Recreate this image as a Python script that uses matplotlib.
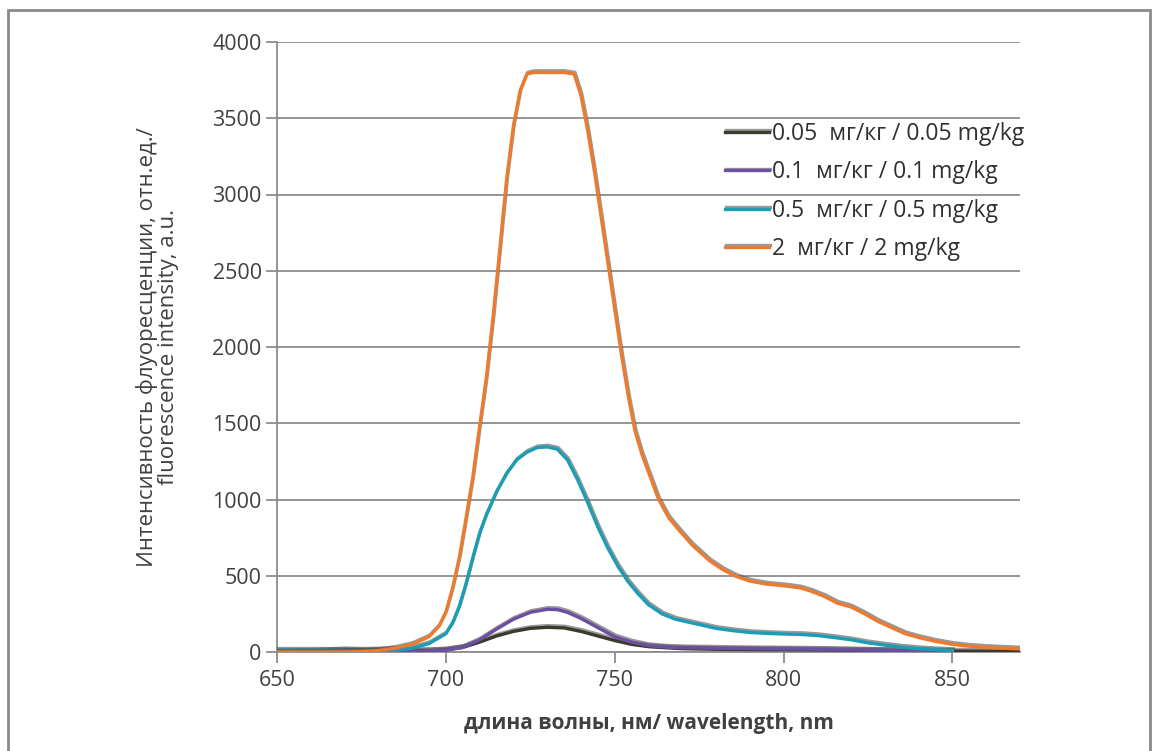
import matplotlib
matplotlib.use('Agg')
from matplotlib import pyplot as plt
from matplotlib import patheffects as pe
from matplotlib.patches import Rectangle

plt.rcParams['font.family'] = ['Open Sans', 'DejaVu Sans']

# 0.05 mg/kg
wl_005 = [650, 660, 665, 670, 675, 680, 685, 690, 695, 700, 705, 710, 715, 720, 725, 730,
          735, 740, 745, 750, 755, 760, 765, 770, 780, 790, 800, 810, 820, 830, 840, 850, 860, 870]
i_005 = [0, 5, 10, 15, 12, 14, 18, 10, 8, 15, 30, 65, 105, 135, 155, 162,
         158, 135, 105, 75, 50, 35, 28, 22, 18, 16, 15, 14, 12, 10, 8, 6, 5, 5]

# 0.1 mg/kg
wl_01 = [665, 680, 690, 700, 705, 710, 715, 720, 725, 730, 733, 736, 740, 745, 750, 755,
         760, 765, 770, 780, 790, 800, 810, 820, 830, 840, 845, 850]
i_01 = [0, 2, 5, 12, 30, 80, 150, 215, 260, 280, 278, 260, 220, 160, 100, 65,
        42, 32, 28, 25, 22, 20, 18, 14, 10, 6, 4, 2]

# 0.5 mg/kg
wl_05 = [650, 660, 670, 680, 685, 690, 695, 700, 702, 704, 706, 708, 710, 712, 715, 718,
         721, 724, 727, 730, 733, 736, 739, 742, 745, 748, 751, 754, 757, 760, 764, 768,
         772, 776, 780, 785, 790, 795, 800, 805, 810, 815, 820, 825, 830, 835, 840, 845, 850]
i_05 = [12, 12, 10, 8, 10, 25, 55, 120, 190, 300, 450, 620, 780, 900, 1050, 1170,
        1260, 1310, 1340, 1345, 1330, 1260, 1130, 980, 820, 680, 560, 460, 380, 310, 250, 215,
        195, 175, 155, 140, 128, 122, 118, 115, 108, 95, 80, 60, 45, 32, 22, 15, 10]

# 2 mg/kg
wl_2 = [650, 670, 675, 680, 685, 690, 695, 698, 700, 702, 704, 706, 708, 710, 712, 714,
        716, 718, 720, 722, 724, 726, 730, 735, 738, 740, 742, 744, 746, 748, 750, 752,
        754, 756, 758, 760, 763, 766, 769, 773, 778, 782, 786, 790, 795, 800, 805, 808,
        812, 816, 820, 824, 828, 832, 836, 840, 845, 850, 855, 860, 865, 870]
i_2 = [0, 0, 3, 10, 25, 50, 100, 170, 260, 420, 620, 880, 1150, 1480, 1800, 2200,
       2650, 3100, 3450, 3680, 3790, 3800, 3800, 3800, 3790, 3650, 3420, 3150, 2850, 2550, 2250, 1950,
       1680, 1450, 1300, 1180, 1000, 880, 800, 700, 600, 540, 495, 465, 445, 435, 420, 400,
       365, 320, 295, 250, 200, 160, 120, 95, 70, 50, 38, 30, 25, 20]

series = [
    (wl_005, i_005, '#3b3a2c', '0.05  мг/кг / 0.05 mg/kg'),
    (wl_01, i_01, '#6a4fa3', '0.1  мг/кг / 0.1 mg/kg'),
    (wl_05, i_05, '#1b9db5', '0.5  мг/кг / 0.5 mg/kg'),
    (wl_2, i_2, '#ee7a2d', '2  мг/кг / 2 mg/kg'),
]

fig = plt.figure(figsize=(11.6, 7.51), dpi=100)
ax = fig.add_axes([277/1160, 1-652/751, (1020-277)/1160, (652-42)/751])

shadow = [pe.SimpleLineShadow(offset=(0.6, 1.2), shadow_color='#555555', alpha=0.6),
          pe.Normal()]
handles = []
for k, (x, y, c, lab) in enumerate(series):
    h, = ax.plot(x, y, color=c, lw=2.4, label=lab, path_effects=shadow, zorder=3+k)
    handles.append(h)

ax.set_xlim(650, 870)
ax.set_ylim(0, 4000)
ax.set_xticks([650, 700, 750, 800, 850])
ax.set_yticks(range(0, 4001, 500))
ax.yaxis.grid(True, color='#8c8c8c', lw=1.3)
ax.set_axisbelow(True)
for s in ['top', 'right']:
    ax.spines[s].set_visible(False)
for s in ['left', 'bottom']:
    ax.spines[s].set_color('#8c8c8c')
    ax.spines[s].set_linewidth(1.3)
ax.tick_params(axis='both', colors='#8c8c8c', length=8, width=1.3,
               labelcolor='#404040', labelsize=15.5, pad=3)
ax.tick_params(axis='x', pad=5)

ax.set_xlabel('длина волны, нм/ wavelength, nm', fontsize=15, fontweight='bold',
              color='#404040', labelpad=16)
ax.set_ylabel('Интенсивность флуоресценции, отн.ед./\nfluorescence intensity, a.u.',
              fontsize=16, color='#404040', labelpad=24, linespacing=1.0)

leg = ax.legend(handles=handles, loc='upper left', bbox_to_anchor=((716-277)/743, 1-(113-42)/610),
                frameon=False, fontsize=16.5, handlelength=1.9, handletextpad=0.15,
                labelspacing=0.62, borderaxespad=0)
for t in leg.get_texts():
    t.set_color('#303030')

fig.add_artist(Rectangle((8/1160, -0.05), (1150-8)/1160, 0.05+1-10/751, transform=fig.transFigure,
                         fill=False, edgecolor='#8a8a8a', lw=2))

plt.savefig('out.png', dpi=100)
